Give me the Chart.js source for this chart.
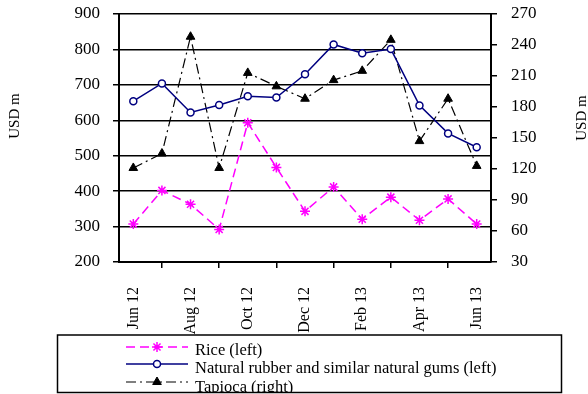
<!DOCTYPE html>
<html>
<head>
<meta charset="utf-8">
<script src="https://cdn.jsdelivr.net/npm/chart.js@4"></script>
<style>
  html, body { margin: 0; padding: 0; background: #fff; }
</style>
</head>
<body>
<canvas id="myChart" width="588" height="394"></canvas>
<script>
const months = ['Jun 12', 'Jul 12', 'Aug 12', 'Sep 12', 'Oct 12', 'Nov 12', 'Dec 12',
                'Jan 13', 'Feb 13', 'Mar 13', 'Apr 13', 'May 13', 'Jun 13']
const rice = [307, 402, 363, 292, 593, 467, 343, 412, 321, 383, 318, 378, 307]
const rubber = [654, 704, 622, 643, 668, 664, 730, 814, 789, 801, 642, 563, 524]
const tapioca = [121, 135, 248, 121, 213, 200, 188, 206, 215, 245, 147, 188, 123]
const leftTicks = [200, 900, 100]   // min, max, step
const rightTicks = [30, 270, 30]
const seriesNames = ['Rice (left)', 'Natural rubber and similar natural gums (left)', 'Tapioca (right)']
const axisTitle = 'USD m'

const serif = 'Liberation Serif'

// axis titles, both read bottom to top
const titlesPlugin = {
  id: 'titles',
  afterDraw(chart) {
    const c = chart.ctx
    c.save()
    c.fillStyle = '#000'
    c.font = '15px "' + serif + '"'
    c.textAlign = 'center'
    c.textBaseline = 'middle'
    ;[[15, 116], [582, 118]].forEach(p => {
      c.save()
      c.translate(p[0], p[1])
      c.rotate(-Math.PI / 2)
      c.fillText(axisTitle, 0, 0)
      c.restore()
    })
    c.restore()
  }
}

// boxed legend under the plot, rows stacked, last row cut by the frame
const legendPlugin = {
  id: 'boxLegend',
  afterDraw(chart) {
    const c = chart.ctx
    const box = { x: 57.5, y: 335, w: 504, h: 57.5 }
    const lineRows = [347, 364, 382]
    const textRows = [351, 368.5, 388]
    c.save()
    c.beginPath()
    c.rect(box.x, box.y, box.w, box.h)
    c.clip()
    chart.data.datasets.forEach((ds, i) => {
      const y = lineRows[i]
      c.save()
      c.strokeStyle = ds.borderColor
      c.lineWidth = ds.borderWidth
      c.setLineDash(ds.borderDash || [])
      c.beginPath()
      c.moveTo(126, y)
      c.lineTo(188, y)
      c.stroke()
      c.restore()
      c.save()
      c.fillStyle = ds.pointBackgroundColor
      c.strokeStyle = ds.pointBorderColor
      c.lineWidth = ds.pointBorderWidth
      c.setLineDash([])
      Chart.helpers.drawPoint(c, {
        pointStyle: ds.pointStyle,
        radius: ds.pointRadius,
        rotation: 0,
        borderWidth: ds.pointBorderWidth
      }, 157, y)
      c.restore()
      c.fillStyle = '#000'
      c.font = '16.5px "' + serif + '"'
      c.textBaseline = 'middle'
      c.fillText(seriesNames[i], 195, textRows[i])
    })
    c.restore()
    c.save()
    c.strokeStyle = '#000'
    c.lineWidth = 1.5
    c.strokeRect(box.x, box.y, box.w, box.h)
    c.restore()
  }
}

// fixed axis sizes so the plot area lands where the original has it
function fixVertical(width) {
  return s => {
    s.width = width
    s.paddingTop = 0
    s.paddingBottom = 0
  }
}

var ctx = document.getElementById('myChart')
var myChart = new Chart(ctx, {
  type: 'line',
  data: {
    labels: months,
    datasets: [{
      label: seriesNames[0],
      data: rice,
      yAxisID: 'y',
      borderColor: '#ff00ff',
      borderWidth: 1.5,
      borderDash: [9, 5],
      pointStyle: 'star',
      pointRadius: 5,
      pointBorderColor: '#ff00ff',
      pointBackgroundColor: '#ff00ff',
      pointBorderWidth: 1.5,
      tension: 0
    }, {
      label: seriesNames[1],
      data: rubber,
      yAxisID: 'y',
      borderColor: '#000080',
      borderWidth: 1.5,
      pointStyle: 'circle',
      pointRadius: 3.5,
      pointBorderColor: '#000080',
      pointBackgroundColor: '#ffffff',
      pointBorderWidth: 1.5,
      tension: 0
    }, {
      label: seriesNames[2],
      data: tapioca,
      yAxisID: 'y1',
      borderColor: '#000000',
      borderWidth: 1.2,
      borderDash: [10, 4, 2, 4],
      pointStyle: 'triangle',
      pointRadius: 5,
      pointBorderColor: '#000000',
      pointBackgroundColor: '#000000',
      pointBorderWidth: 1,
      tension: 0
    }]
  },
  options: {
    responsive: false,
    animation: false,
    layout: { padding: { top: 14, bottom: 60, left: 0, right: 0 } },
    plugins: {
      legend: { display: false },
      tooltip: { enabled: false }
    },
    scales: {
      x: {
        offset: true,
        afterFit: s => { s.height = 72 },
        grid: { offset: true, drawOnChartArea: false, color: '#000', lineWidth: 1.5, tickLength: 6 },
        border: { display: true, color: '#000', width: 2 },
        ticks: {
          autoSkip: false, maxRotation: 90, minRotation: 90, padding: 19,
          color: '#000', font: { family: serif, size: 16 },
          callback: (v, i) => (i % 2 === 0 ? months[i] : null)
        }
      },
      y: {
        position: 'left',
        min: leftTicks[0], max: leftTicks[1],
        afterFit: fixVertical(119),
        grid: { color: '#000', lineWidth: 1.5, tickLength: 6 },
        border: { display: true, color: '#000', width: 2 },
        ticks: { stepSize: leftTicks[2], padding: 13, color: '#000', font: { family: serif, size: 17 } }
      },
      y1: {
        position: 'right',
        min: rightTicks[0], max: rightTicks[1],
        afterFit: fixVertical(97),
        grid: { drawOnChartArea: false, color: '#000', lineWidth: 1.5, tickLength: 6 },
        border: { display: true, color: '#000', width: 2 },
        ticks: { stepSize: rightTicks[2], padding: 14, color: '#000', font: { family: serif, size: 17 } }
      }
    }
  },
  plugins: [titlesPlugin, legendPlugin]
})
</script>
</body>
</html>
